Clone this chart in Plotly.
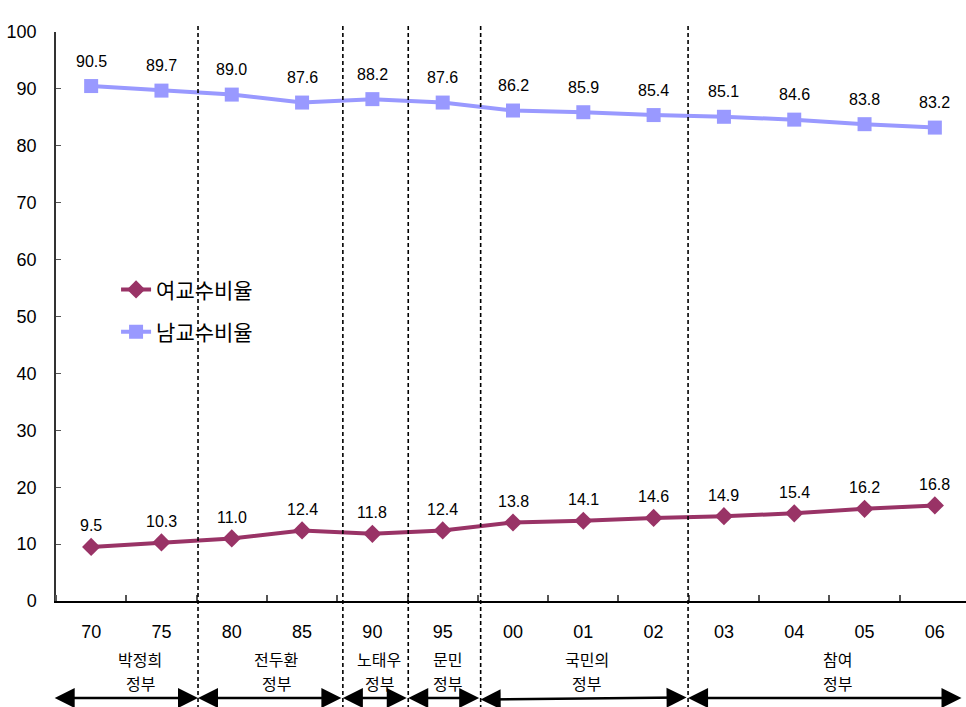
import plotly.graph_objects as go

# Year categories and the share of professors by gender (%)
years = ["70", "75", "80", "85", "90", "95", "00", "01", "02", "03", "04", "05", "06"]
female_ratio = [9.5, 10.3, 11.0, 12.4, 11.8, 12.4, 13.8, 14.1, 14.6, 14.9, 15.4, 16.2, 16.8]
male_ratio = [90.5, 89.7, 89.0, 87.6, 88.2, 87.6, 86.2, 85.9, 85.4, 85.1, 84.6, 83.8, 83.2]
series_names = ["여교수비율", "남교수비율"]

# Administrations: two-line label, label centre and span on the category index axis
gov_names = ["박정희", "전두환", "노태우", "문민", "국민의", "참여"]
gov_suffix = "정부"
gov_centers = [0.70, 2.63, 4.10, 5.07, 7.05, 10.62]
gov_bounds = [-0.54, 1.52, 3.58, 4.51, 5.54, 8.49, 12.40]
divider_pos = [1.52, 3.58, 4.51, 5.54, 8.49]

NUM_FONT = "Liberation Sans, Arial, Noto Sans CJK KR"
KR_FONT = "Noto Sans CJK KR, Liberation Sans"

xs = list(range(len(years)))

fig = go.Figure()
fig.add_trace(go.Scatter(
    x=xs, y=female_ratio, name=series_names[0], mode="lines+markers",
    legendgroup="f",
    line=dict(color="#993366", width=4),
    marker=dict(symbol="diamond", size=14, color="#993366"),
))
fig.add_trace(go.Scatter(
    x=xs, y=male_ratio, name=series_names[1], mode="lines+markers",
    legendgroup="m",
    line=dict(color="#9999FF", width=4),
    marker=dict(symbol="square", size=14, color="#9999FF"),
))

annotations = []
# value labels above each point
for series, shift in ((female_ratio, 21), (male_ratio, 25)):
    for i, v in enumerate(series):
        annotations.append(dict(
            x=i, y=v, xref="x", yref="y", text=f"{v:.1f}", showarrow=False,
            yshift=shift, font=dict(family=NUM_FONT, size=16, color="black"),
        ))

# unit label
annotations.append(dict(
    x=-0.52, y=1.026, xref="x", yref="paper", text="(%)", showarrow=False,
    xanchor="left", yanchor="middle",
    font=dict(family=NUM_FONT, size=18, color="black"),
))

# administration names and double-headed span arrows
ARROW_Y = -0.1705
for k, name in enumerate(gov_names):
    for line_text, ly in ((name, -0.1016), (gov_suffix, -0.1438)):
        annotations.append(dict(
            x=gov_centers[k], y=ly, xref="x", yref="paper", text=line_text,
            showarrow=False, yanchor="middle",
            font=dict(family=KR_FONT, size=16, color="black"),
        ))
    lo, hi = gov_bounds[k], gov_bounds[k + 1]
    # anchor the head on the in-range end
    head, tail = (hi, lo) if k == 0 else (lo, hi)
    y_head, dy = ARROW_Y, 0
    if k == 4:  # this span is drawn slightly tilted
        y_head, dy = -0.173, -2
    annotations.append(dict(
        x=head, y=y_head, xref="x", yref="paper",
        ax=tail, ay=dy, axref="x", ayref="pixel",
        text="", showarrow=True, arrowside="end+start",
        arrowhead=2, arrowsize=1.6, arrowwidth=2.5, arrowcolor="black",
        standoff=0, startstandoff=0,
    ))

shapes = []
for p in divider_pos:
    shapes.append(dict(
        type="line", xref="x", yref="paper", x0=p, x1=p, y0=-0.19, y1=1.012,
        line=dict(color="black", width=1.6, dash="4px,3px"),
    ))

fig.update_layout(
    width=966, height=707,
    margin=dict(l=56, r=0, t=32, b=106),
    plot_bgcolor="white", paper_bgcolor="white",
    font=dict(family=NUM_FONT, size=18, color="black"),
    showlegend=True,
    legend=dict(
        x=0.066, y=0.583, xanchor="left", yanchor="top",
        bgcolor="rgba(0,0,0,0)", tracegroupgap=12, traceorder="grouped",
        font=dict(family=KR_FONT, size=21, color="black"),
    ),
    annotations=annotations,
    shapes=shapes,
)

fig.update_xaxes(
    range=[-0.5, 12.443], showgrid=False, zeroline=False,
    showline=True, linecolor="black", linewidth=1.5,
    tickvals=xs, ticktext=years, ticks="",
    tickfont=dict(family=NUM_FONT, size=18, color="black"),
    ticklabelstandoff=14,
    minor=dict(ticks="inside", tick0=0.5, dtick=1, ticklen=6, tickcolor="#555", tickwidth=1.5),
)
fig.update_yaxes(
    range=[0, 100], dtick=10, showgrid=False, zeroline=False,
    showline=True, linecolor="#333", linewidth=1.5,
    ticks="inside", ticklen=5, tickcolor="#555",
    tickfont=dict(family=NUM_FONT, size=18, color="black"),
    ticklabelstandoff=14,
)

fig.write_html("out.html")
